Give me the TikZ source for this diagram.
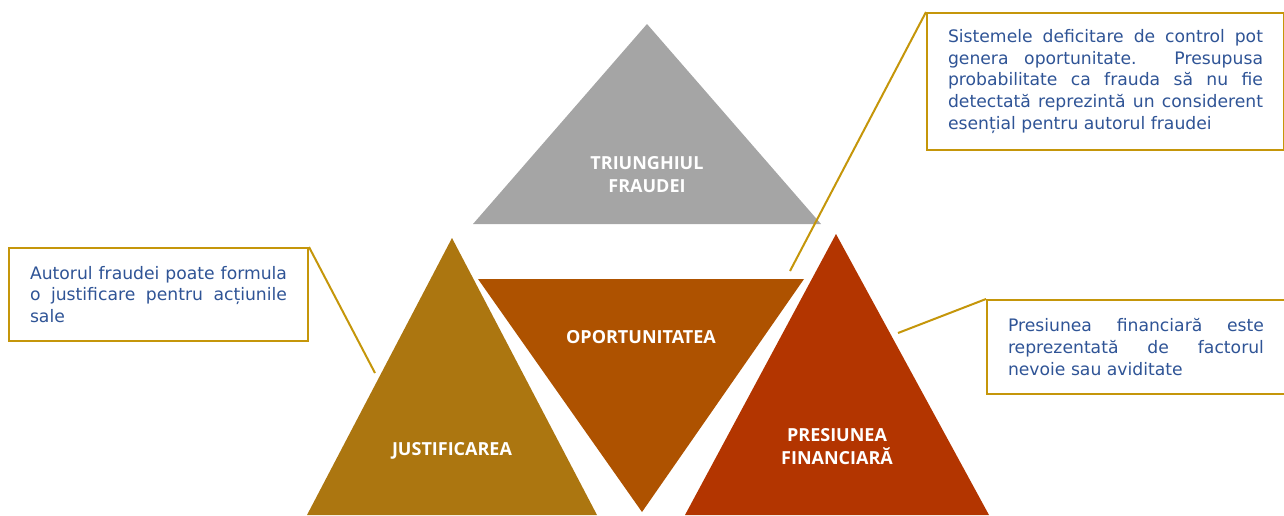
\documentclass[tikz,border=0pt]{standalone}
\usepackage{fontspec}
\setmainfont{DejaVu Sans}
\newfontfamily\labelfont{Open Sans}
\usepackage{tikz}

\definecolor{grayTri}{RGB}{165,165,165}
\definecolor{goldTri}{RGB}{172,118,16}
\definecolor{orangeTri}{RGB}{174,82,0}
\definecolor{redTri}{RGB}{179,53,0}
\definecolor{noteLine}{RGB}{197,150,10}
\definecolor{noteText}{RGB}{47,84,150}
\hyphenpenalty=10000

\begin{document}
\begin{tikzpicture}[x=1pt,y=-1pt]
            \tikzstyle{tri label}=[text=white,font=\labelfont\bfseries\fontsize{18}{23}\selectfont,align=center]
            \tikzstyle{note}=[draw=noteLine,line width=2pt,fill=white,text=noteText,inner xsep=21pt,align=justify,font=\fontsize{17.2}{21.8}\selectfont]
            \tikzstyle{note line}=[draw=noteLine,line width=2pt]
            \useasboundingbox (0,0) rectangle (1284,515);
            \fill[grayTri] (647,24) -- (821,224) -- (473,224) -- cycle;
            \fill[goldTri] (452,238) -- (597,515) -- (307,515) -- cycle;
            \fill[orangeTri] (478,279) -- (804,279) -- (642,512) -- cycle;
            \fill[redTri] (836,234) -- (989,515) -- (685,515) -- cycle;
            \node[tri label] (triunghi) at (647,175) {TRIUNGHIUL\\FRAUDEI};
            \node[tri label] (oport) at (641,337) {OPORTUNITATEA};
            \node[tri label] (justif) at (452,451) {JUSTIFICAREA};
            \node[tri label] (presiune) at (837,447) {PRESIUNEA\\FINANCIARĂ};
            \node[note,text width=315pt,minimum height=137pt,anchor=north west] (noteOport) at (926,12)
                {Sistemele deficitare de control pot genera oportunitate. Presupusa probabilitate ca frauda să nu fie detectată reprezintă un considerent esențial pentru autorul fraudei};
            \node[note,text width=257pt,minimum height=93pt,anchor=north west] (noteJust) at (8,247)
                {Autorul fraudei poate formula o justificare pentru acțiunile sale};
            \node[note,text width=256pt,minimum height=94pt,anchor=north west] (notePres) at (986,299)
                {Presiunea financiară este reprezentată de factorul nevoie sau aviditate};
            \coordinate (oportTip) at (790,271);
            \coordinate (justTip) at (375,373);
            \coordinate (presTip) at (898,333);
            \draw[note line] (noteOport.north west) -- (oportTip);
            \draw[note line] (noteJust.north east) -- (justTip);
            \draw[note line] (notePres.north west) -- (presTip);
        \end{tikzpicture}
\end{document}
